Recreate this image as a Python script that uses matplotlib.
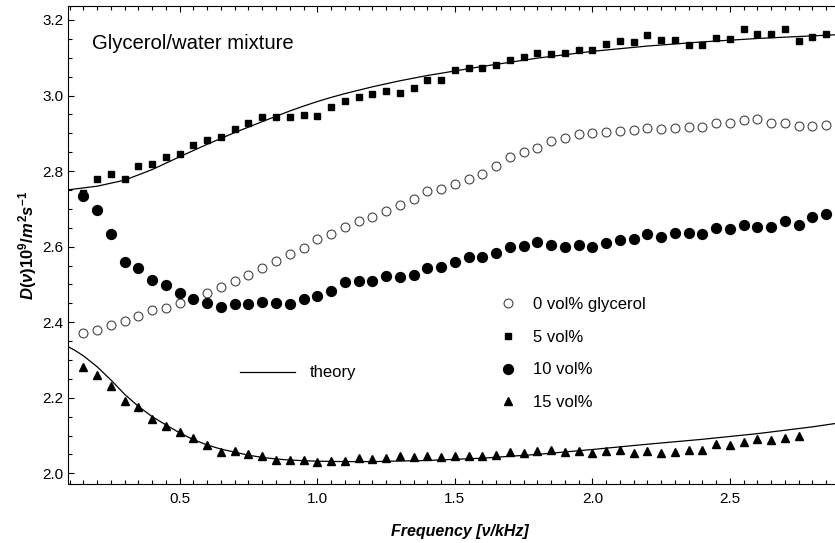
import numpy as np
import matplotlib
matplotlib.use("Agg")
import matplotlib.pyplot as plt
from matplotlib.ticker import MultipleLocator
from matplotlib.lines import Line2D

plt.rcParams['font.family'] = ['Liberation Sans', 'DejaVu Sans']
plt.rcParams['mathtext.fontset'] = 'custom'
plt.rcParams['mathtext.it'] = 'Liberation Sans:italic:bold'
plt.rcParams['mathtext.rm'] = 'Liberation Sans:bold'
plt.rcParams['mathtext.default'] = 'it'

# measured frequencies (kHz)
freq = [0.15, 0.20, 0.25, 0.30, 0.35, 0.40, 0.45, 0.50, 0.55, 0.60,
        0.65, 0.70, 0.75, 0.80, 0.85, 0.90, 0.95, 1.00, 1.05, 1.10,
        1.15, 1.20, 1.25, 1.30, 1.35, 1.40, 1.45, 1.50, 1.55, 1.60,
        1.65, 1.70, 1.75, 1.80, 1.85, 1.90, 1.95, 2.00, 2.05, 2.10,
        2.15, 2.20, 2.25, 2.30, 2.35, 2.40, 2.45, 2.50, 2.55, 2.60,
        2.65, 2.70, 2.75, 2.80, 2.85]

# D(nu) in 10^-9 m^2/s
d_0vol = [2.372, 2.379, 2.392, 2.402, 2.417, 2.431, 2.438, 2.452, 2.462, 2.477,
          2.493, 2.510, 2.525, 2.543, 2.563, 2.581, 2.597, 2.620, 2.633, 2.651,
          2.667, 2.679, 2.695, 2.711, 2.727, 2.746, 2.752, 2.765, 2.780, 2.793,
          2.814, 2.836, 2.850, 2.862, 2.879, 2.888, 2.897, 2.902, 2.904, 2.907,
          2.908, 2.914, 2.912, 2.914, 2.918, 2.918, 2.927, 2.928, 2.934, 2.939,
          2.928, 2.927, 2.920, 2.920, 2.922]
d_5vol = [2.743, 2.778, 2.792, 2.779, 2.814, 2.818, 2.837, 2.845, 2.868, 2.882,
          2.890, 2.911, 2.927, 2.943, 2.943, 2.943, 2.948, 2.946, 2.969, 2.986,
          2.996, 3.003, 3.011, 3.006, 3.019, 3.041, 3.041, 3.067, 3.072, 3.072,
          3.080, 3.093, 3.101, 3.112, 3.110, 3.113, 3.120, 3.120, 3.136, 3.144,
          3.141, 3.160, 3.146, 3.146, 3.133, 3.133, 3.153, 3.149, 3.176, 3.162,
          3.164, 3.176, 3.144, 3.155, 3.162]
d_10vol = [2.734, 2.696, 2.633, 2.560, 2.543, 2.511, 2.498, 2.476, 2.462, 2.451,
           2.441, 2.448, 2.448, 2.453, 2.452, 2.448, 2.461, 2.469, 2.483, 2.507,
           2.509, 2.509, 2.521, 2.519, 2.525, 2.544, 2.547, 2.560, 2.572, 2.572,
           2.584, 2.598, 2.603, 2.612, 2.604, 2.598, 2.604, 2.598, 2.609, 2.618,
           2.620, 2.633, 2.626, 2.635, 2.635, 2.634, 2.650, 2.646, 2.656, 2.651,
           2.652, 2.669, 2.657, 2.678, 2.687]
# 15 vol% stops at 2.75 kHz
d_15vol = [2.281, 2.261, 2.230, 2.191, 2.175, 2.145, 2.126, 2.109, 2.093, 2.075,
           2.057, 2.059, 2.051, 2.045, 2.036, 2.035, 2.034, 2.030, 2.033, 2.033,
           2.040, 2.037, 2.040, 2.045, 2.044, 2.047, 2.042, 2.045, 2.047, 2.047,
           2.048, 2.057, 2.054, 2.058, 2.062, 2.056, 2.060, 2.053, 2.058, 2.063,
           2.053, 2.059, 2.054, 2.056, 2.063, 2.062, 2.077, 2.075, 2.082, 2.092,
           2.088, 2.094, 2.098]

# theory curves
th5_f = [0.09, 0.2, 0.3, 0.4, 0.5, 0.6, 0.7, 0.8, 0.9, 0.95, 1.0, 1.05, 1.1,
         1.2, 1.3, 1.4, 1.5, 1.6, 1.7, 1.8, 1.9, 2.0, 2.2, 2.4, 2.6, 2.8, 2.95]
th5_d = [2.750, 2.760, 2.776, 2.804, 2.838, 2.871, 2.902, 2.931, 2.959, 2.972,
         2.984, 2.995, 3.005, 3.023, 3.039, 3.053, 3.065, 3.077, 3.088, 3.099,
         3.108, 3.117, 3.131, 3.142, 3.151, 3.158, 3.163]
th15_f = [0.09, 0.12, 0.15, 0.2, 0.25, 0.3, 0.35, 0.4, 0.45, 0.5, 0.55, 0.6,
          0.65, 0.7, 0.75, 0.8, 0.85, 0.9, 1.0, 1.1, 1.2, 1.4, 1.6, 1.8, 2.0,
          2.2, 2.4, 2.6, 2.8, 2.95]
th15_d = [2.337, 2.325, 2.311, 2.282, 2.247, 2.209, 2.177, 2.150, 2.128, 2.107,
          2.089, 2.075, 2.064, 2.056, 2.048, 2.042, 2.038, 2.035, 2.032, 2.031,
          2.031, 2.034, 2.040, 2.050, 2.063, 2.077, 2.090, 2.105, 2.123, 2.139]

fig = plt.figure(figsize=(8.35, 5.43), dpi=100)
ax = fig.add_axes([68/835, (543-483.5)/543, (852-68)/835, (483.5-6)/543])

ax.plot(th5_f, th5_d, "k-", lw=0.9)
ax.plot(th15_f, th15_d, "k-", lw=0.9)

p0, = ax.plot(freq, d_0vol, "o", ms=6.4, mfc="white", mec="#444444", mew=0.8, ls="none")
p5, = ax.plot(freq, d_5vol, "s", ms=5.0, color="black", ls="none")
p10, = ax.plot(freq, d_10vol, "o", ms=7.1, color="black", ls="none")
p15, = ax.plot(freq[:len(d_15vol)], d_15vol, "^", ms=5.6, color="black", ls="none")

ax.set_xlim(0.094, 2.9436)
ax.set_ylim(1.973, 3.237)
ax.xaxis.set_major_locator(MultipleLocator(0.5))
ax.xaxis.set_minor_locator(MultipleLocator(0.05))
ax.yaxis.set_major_locator(MultipleLocator(0.2))
ax.yaxis.set_minor_locator(MultipleLocator(0.05))
ax.tick_params(which="both", direction="in", top=True, right=False, width=0.8, labelsize=11)
ax.tick_params(axis="x", which="major", length=4.5, pad=6)
ax.tick_params(axis="y", which="major", length=4.5, pad=3.5)
ax.tick_params(which="minor", length=2.8)
ax.spines["right"].set_visible(False)
for s in ["left", "bottom", "top"]:
    ax.spines[s].set_linewidth(0.8)

ax.set_xlabel("Frequency [ν/kHz]", fontsize=11.5, fontweight="bold", style="italic", labelpad=13)
ax.set_ylabel(r"$D(\nu)10^9/m^2s^{-1}$", fontsize=12, labelpad=2)

ax.text(0.0306, 0.910, "Glycerol/water mixture", transform=ax.transAxes,
        fontsize=14.6, va="baseline", ha="left")

leg1 = ax.legend([p0, p5, p10, p15], ["0 vol% glycerol", "5 vol%", "10 vol%", "15 vol%"],
                 loc="center left", bbox_to_anchor=((499.7-68)/784, (483.5-353.5)/477.5),
                 frameon=False, fontsize=12, handlelength=1.0, handletextpad=1.0,
                 labelspacing=1.06, borderpad=0, borderaxespad=0, numpoints=1)
ax.add_artist(leg1)
ax.legend([Line2D([], [], color="black", lw=0.9)], ["theory"],
          loc="center left", bbox_to_anchor=((240-68)/784, (483.5-373)/477.5),
          frameon=False, fontsize=12, handlelength=3.3, handletextpad=0.9,
          borderpad=0, borderaxespad=0)

fig.savefig("out.png", dpi=100)
